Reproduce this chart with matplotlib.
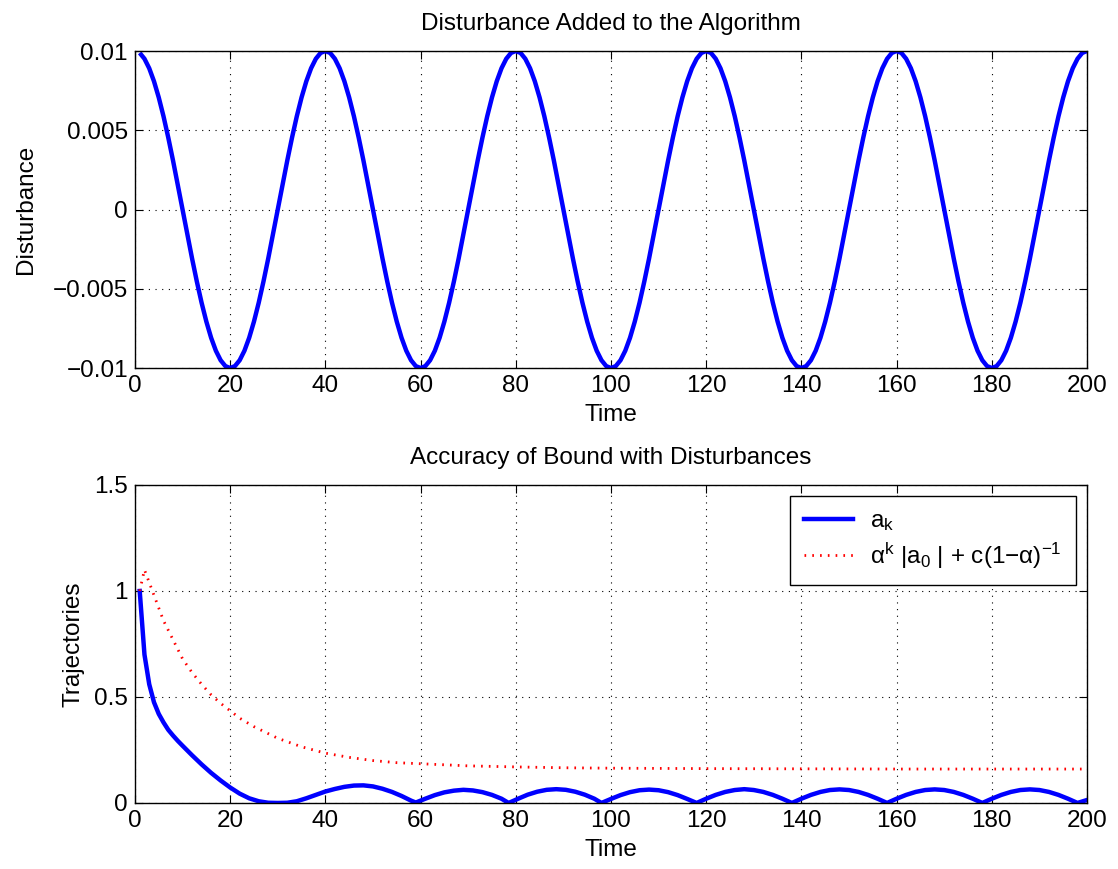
import matplotlib
matplotlib.use("Agg")
import matplotlib.pyplot as plt

plt.rcParams['font.family'] = ['Liberation Sans', 'DejaVu Sans']
plt.rcParams['mathtext.fontset'] = 'custom'
plt.rcParams['mathtext.rm'] = 'Liberation Sans'
plt.rcParams['mathtext.it'] = 'Liberation Sans'

# ---- data: top panel (disturbance at k = 1..200) ----
dist_time = list(range(1, 201))
dist_value = [
    0.00988, 0.00951, 0.00891, 0.00809, 0.00707, 0.00588, 0.00454, 0.00309, 0.00156, 0.0,
    -0.00156, -0.00309, -0.00454, -0.00588, -0.00707, -0.00809, -0.00891, -0.00951, -0.00988, -0.01,
    -0.00988, -0.00951, -0.00891, -0.00809, -0.00707, -0.00588, -0.00454, -0.00309, -0.00156, 0.0,
    0.00156, 0.00309, 0.00454, 0.00588, 0.00707, 0.00809, 0.00891, 0.00951, 0.00988, 0.01,
    0.00988, 0.00951, 0.00891, 0.00809, 0.00707, 0.00588, 0.00454, 0.00309, 0.00156, 0.0,
    -0.00156, -0.00309, -0.00454, -0.00588, -0.00707, -0.00809, -0.00891, -0.00951, -0.00988, -0.01,
    -0.00988, -0.00951, -0.00891, -0.00809, -0.00707, -0.00588, -0.00454, -0.00309, -0.00156, 0.0,
    0.00156, 0.00309, 0.00454, 0.00588, 0.00707, 0.00809, 0.00891, 0.00951, 0.00988, 0.01,
    0.00988, 0.00951, 0.00891, 0.00809, 0.00707, 0.00588, 0.00454, 0.00309, 0.00156, 0.0,
    -0.00156, -0.00309, -0.00454, -0.00588, -0.00707, -0.00809, -0.00891, -0.00951, -0.00988, -0.01,
    -0.00988, -0.00951, -0.00891, -0.00809, -0.00707, -0.00588, -0.00454, -0.00309, -0.00156, 0.0,
    0.00156, 0.00309, 0.00454, 0.00588, 0.00707, 0.00809, 0.00891, 0.00951, 0.00988, 0.01,
    0.00988, 0.00951, 0.00891, 0.00809, 0.00707, 0.00588, 0.00454, 0.00309, 0.00156, 0.0,
    -0.00156, -0.00309, -0.00454, -0.00588, -0.00707, -0.00809, -0.00891, -0.00951, -0.00988, -0.01,
    -0.00988, -0.00951, -0.00891, -0.00809, -0.00707, -0.00588, -0.00454, -0.00309, -0.00156, 0.0,
    0.00156, 0.00309, 0.00454, 0.00588, 0.00707, 0.00809, 0.00891, 0.00951, 0.00988, 0.01,
    0.00988, 0.00951, 0.00891, 0.00809, 0.00707, 0.00588, 0.00454, 0.00309, 0.00156, 0.0,
    -0.00156, -0.00309, -0.00454, -0.00588, -0.00707, -0.00809, -0.00891, -0.00951, -0.00988, -0.01,
    -0.00988, -0.00951, -0.00891, -0.00809, -0.00707, -0.00588, -0.00454, -0.00309, -0.00156, 0.0,
    0.00156, 0.00309, 0.00454, 0.00588, 0.00707, 0.00809, 0.00891, 0.00951, 0.00988, 0.01]

# ---- data: bottom panel ----
ak_time = [1, 2, 3, 4, 5, 6, 7, 8, 9, 10, 12, 14, 16, 18, 20, 22, 24, 26, 28, 30, 32, 34,
           36, 38, 40, 42, 44, 46, 48, 50, 52, 54, 56, 58, 59,
           61, 63, 65, 67, 69, 71, 73, 75, 77, 78.5,
           80.5, 82.5, 84.5, 86.5, 88.5, 90.5, 92.5, 94.5, 96.5, 98,
           100, 102, 104, 106, 108, 110, 112, 114, 116, 118,
           120, 122, 124, 126, 128, 130, 132, 134, 136, 138,
           140, 142, 144, 146, 148, 150, 152, 154, 156, 158,
           160, 162, 164, 166, 168, 170, 172, 174, 176, 178,
           180, 182, 184, 186, 188, 190, 192, 194, 196, 198, 200]
ak_value = [1.0, 0.70, 0.56, 0.475, 0.42, 0.38, 0.345, 0.318, 0.293, 0.27,
            0.225, 0.182, 0.142, 0.106, 0.073, 0.044, 0.022, 0.008, 0.001, 0.0, 0.001, 0.008,
            0.022, 0.038, 0.054, 0.066, 0.076, 0.082, 0.083, 0.078, 0.067, 0.052, 0.033, 0.011, 0.002,
            0.02, 0.037, 0.05, 0.058, 0.062, 0.059, 0.051, 0.038, 0.02, 0.0,
            0.02, 0.039, 0.053, 0.062, 0.065, 0.062, 0.053, 0.039, 0.02, 0.0,
            0.019, 0.037, 0.051, 0.06, 0.063, 0.06, 0.051, 0.037, 0.019, 0.0,
            0.02, 0.038, 0.052, 0.061, 0.065, 0.061, 0.052, 0.038, 0.02, 0.0,
            0.02, 0.038, 0.052, 0.061, 0.064, 0.061, 0.052, 0.038, 0.02, 0.0,
            0.02, 0.038, 0.052, 0.061, 0.064, 0.061, 0.052, 0.038, 0.02, 0.0,
            0.02, 0.038, 0.052, 0.061, 0.064, 0.061, 0.052, 0.038, 0.02, 0.0, 0.014]

bound_time = [1, 2, 3, 4, 5, 6, 8, 10, 12, 14, 16, 18, 20, 22, 25, 30, 35, 40, 45, 50,
              55, 60, 70, 80, 90, 100, 120, 140, 160, 180, 200]
bound_value = [1.0, 1.10, 1.04, 0.98, 0.92, 0.86, 0.77, 0.68, 0.615, 0.56, 0.51, 0.47,
               0.435, 0.40, 0.36, 0.305, 0.265, 0.235, 0.215, 0.20, 0.19, 0.185, 0.175,
               0.17, 0.166, 0.164, 0.162, 0.161, 0.16, 0.16, 0.16]

x_ticks = [0, 20, 40, 60, 80, 100, 120, 140, 160, 180, 200]
top_yticks = [-0.01, -0.005, 0, 0.005, 0.01]
top_yticklabels = ['\u22120.01', '\u22120.005', '0', '0.005', '0.01']
bot_yticks = [0, 0.5, 1, 1.5]
bot_yticklabels = ['0', '0.5', '1', '1.5']

fig = plt.figure(figsize=(11.18, 8.69), dpi=100)
ax1 = fig.add_axes([0.1207, 0.5765, 0.8516, 0.3648])
ax2 = fig.add_axes([0.1207, 0.0760, 0.8516, 0.3659])

FS = 17.5

def style(ax):
    ax.set_xlim(0, 200)
    ax.set_xticks(x_ticks)
    ax.tick_params(direction='in', top=True, right=True, length=6, width=0.8,
                   labelsize=FS, pad=5)
    ax.grid(True, color='black', linestyle=(0, (1, 5)), linewidth=0.8)
    for s in ax.spines.values():
        s.set_linewidth(1.0)
    ax.set_xlabel('Time', fontsize=FS, labelpad=5)

ax1.plot(dist_time, dist_value, color='#0000ff', linewidth=3.2,
         solid_joinstyle='round', solid_capstyle='butt')
style(ax1)
ax1.set_ylim(-0.01, 0.01)
ax1.set_yticks(top_yticks)
ax1.set_yticklabels(top_yticklabels)
ax1.set_ylabel('Disturbance', fontsize=FS, labelpad=11)
ax1.set_title('Disturbance Added to the Algorithm', fontsize=FS, pad=15)

ax2.plot(ak_time, ak_value, color='#0000ff', linewidth=3.2, solid_joinstyle='round',
         label=r'a$_{\mathrm{k}}$')
ax2.plot(bound_time, bound_value, color='#ff0000', linewidth=2,
         linestyle=(0, (0.6, 2.2)),
         label='\u03b1$^{\\mathrm{k}}$ |a$_{\\mathrm{0}}$ | + c(1\u2212\u03b1)$^{\\mathrm{\u22121}}$')
style(ax2)
ax2.set_ylim(0, 1.5)
ax2.set_yticks(bot_yticks)
ax2.set_yticklabels(bot_yticklabels)
ax2.set_ylabel('Trajectories', fontsize=FS, labelpad=7)
ax2.set_title('Accuracy of Bound with Disturbances', fontsize=FS, pad=15)
leg = ax2.legend(loc='upper right', fontsize=FS, fancybox=False, framealpha=1,
                 edgecolor='black', handlelength=2.0, handletextpad=0.7,
                 borderaxespad=0.45, labelspacing=0.3, borderpad=0.6)
leg.get_frame().set_linewidth(1.0)

fig.savefig('out.png', dpi=100)
